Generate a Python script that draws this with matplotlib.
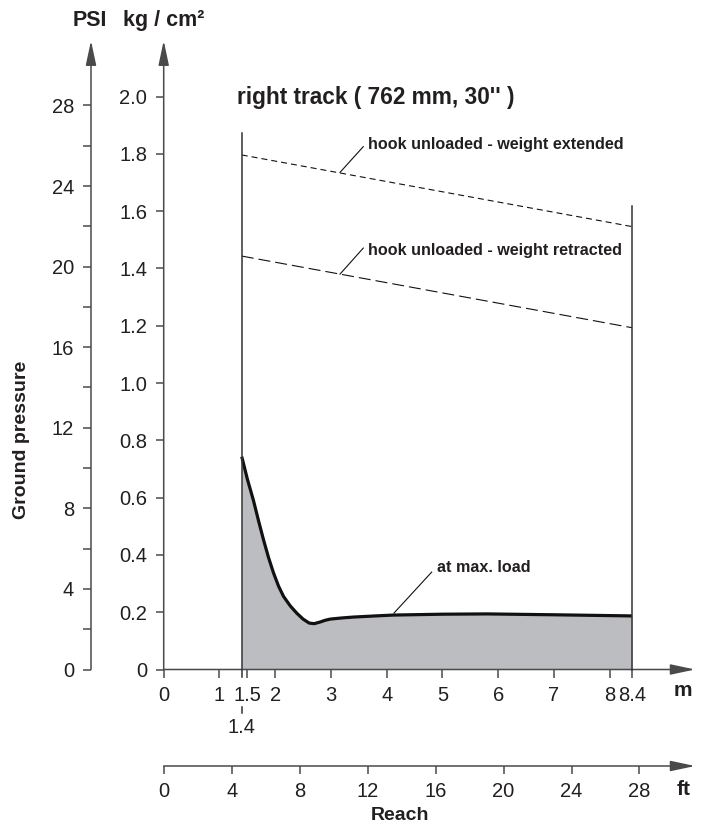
import matplotlib
matplotlib.use("Agg")
import matplotlib.pyplot as plt
from matplotlib.ticker import FixedLocator

plt.rcParams['font.family'] = ['Liberation Sans', 'DejaVu Sans']

# ---------------- data ----------------
kg_ticks = [0, 0.2, 0.4, 0.6, 0.8, 1.0, 1.2, 1.4, 1.6, 1.8, 2.0]
kg_labels = ["0", "0.2", "0.4", "0.6", "0.8", "1.0", "1.2", "1.4", "1.6", "1.8", "2.0"]
psi_major = [0, 4, 8, 12, 16, 20, 24, 28]
psi_minor = [2, 6, 10, 14, 18, 22, 26]
m_ticks = [0, 1, 1.5, 2, 3, 4, 5, 6, 7, 8, 8.4]
m_labels = ["0", "1", "1.5", "2", "3", "4", "5", "6", "7", "8", "8.4"]
ft_ticks = [0, 4, 8, 12, 16, 20, 24, 28]

reach_min, reach_max = 1.4, 8.4          # m
extended_x = [1.4, 8.4]
extended_y = [1.796, 1.546]              # kg/cm2, hook unloaded - weight extended
retracted_x = [1.4, 8.4]
retracted_y = [1.443, 1.193]             # kg/cm2, hook unloaded - weight retracted

load_x = [1.40, 1.50, 1.61, 1.70, 1.79, 1.88, 1.97, 2.06, 2.15, 2.27, 2.39,
          2.50, 2.61, 2.70, 2.81, 2.90, 2.99, 3.20, 3.40, 3.80, 4.12, 5.00,
          5.80, 7.00, 8.40]
load_y = [0.743, 0.665, 0.590, 0.520, 0.453, 0.391, 0.337, 0.291, 0.255, 0.222, 0.196,
          0.176, 0.162, 0.160, 0.166, 0.172, 0.176, 0.180, 0.183, 0.187, 0.190, 0.193,
          0.194, 0.191, 0.187]

KG_TO_PSI = 14.223
M_TO_FT = 1 / 0.3048

# ---------------- layout ----------------
W, H = 707, 830
X0, Y0 = 163.7, 669.5      # pixel of origin
PX_PER_M, PX_PER_KG = 55.75, 286.5
X_TIP, Y_TIP = 695.0, 40.7
axis_col = "#4a4a4a"
txt_col = "#231f20"
fill_col = "#bcbdc1"
TICK_FS = 14.5

fig = plt.figure(figsize=(W / 100, H / 100), dpi=100)
ax = fig.add_axes([X0 / W, 1 - Y0 / H, (X_TIP - X0) / W, (Y0 - Y_TIP) / H])
ax.set_xlim(0, (X_TIP - X0) / PX_PER_M)
ax.set_ylim(0, (Y0 - Y_TIP) / PX_PER_KG)
for s in ax.spines.values():
    s.set_visible(False)
ax.patch.set_alpha(0)

arrow_v = dict(arrowstyle='-|>,head_length=1.5,head_width=0.32', mutation_scale=10,
               lw=1.1, color=axis_col, shrinkA=0, shrinkB=0)
ax.annotate('', xy=(0, 1), xytext=(0, 0), xycoords='axes fraction', arrowprops=arrow_v)
ax.annotate('', xy=(1, 0), xytext=(0, 0), xycoords='axes fraction', arrowprops=arrow_v)

ax.set_yticks(kg_ticks)
ax.set_yticklabels(kg_labels)
ax.set_xticks(m_ticks)
ax.set_xticklabels(m_labels)
ax.tick_params(axis='both', direction='out', length=5.8, width=1.1, color=axis_col,
               labelsize=TICK_FS, labelcolor=txt_col, pad=6)

# data
ax.fill_between(load_x, load_y, 0, color=fill_col, lw=0, zorder=1)
ax.plot(load_x, load_y, color="#111111", lw=2.3, solid_joinstyle='round',
        solid_capstyle='butt', zorder=3)
ax.plot(extended_x, extended_y, color="#111111", lw=0.8, ls=(0, (5.4, 3.6)))
ax.plot(retracted_x, retracted_y, color="#111111", lw=0.8, ls=(0, (10.8, 4.5)))

# reach limit lines
ax.plot([reach_min, reach_min], [-0.025, 1.873], color="#333333", lw=1.1, clip_on=False, zorder=4)
ax.plot([reach_max, reach_max], [0, 1.618], color="#333333", lw=1.1, clip_on=False, zorder=4)
ax.plot([reach_min, reach_min], [-0.131, -0.153], color="#333333", lw=1.1, clip_on=False)
ax.text(reach_min, -0.2007, "1.4", ha='center', va='center', fontsize=TICK_FS, color=txt_col)

# annotations
bold = dict(fontweight='bold', color=txt_col)
ax.plot([3.162, 3.580], [1.735, 1.825], color="#111111", lw=0.8)
ax.text(3.665, 1.831, "hook unloaded - weight extended", fontsize=11.6, va='center', **bold)
ax.plot([3.162, 3.580], [1.380, 1.471], color="#111111", lw=0.8)
ax.text(3.665, 1.464, "hook unloaded - weight retracted", fontsize=11.6, va='center', **bold)
ax.plot([4.131, 4.807], [0.197, 0.340], color="#111111", lw=0.8)
ax.text(4.897, 0.355, "at max. load", fontsize=11.6, va='center', **bold)

ax.text((237 - X0) / PX_PER_M, (Y0 - 104) / PX_PER_KG, "right track ( 762 mm, 30'' )",
        fontsize=16.3, va='baseline', **bold)
ax.text((683 - X0) / PX_PER_M, (Y0 - 690) / PX_PER_KG, "m", fontsize=15,
        ha='center', va='center', clip_on=False, **bold)

# PSI axis
PSI_X = 91.0
axp = fig.add_axes([PSI_X / W, 1 - Y0 / H, 0.001, (Y0 - Y_TIP) / H])
axp.set_ylim(0, (Y0 - Y_TIP) / PX_PER_KG * KG_TO_PSI)
for s in axp.spines.values():
    s.set_visible(False)
axp.patch.set_alpha(0)
axp.set_xticks([])
axp.annotate('', xy=(0, 1), xytext=(0, 0), xycoords='axes fraction', arrowprops=arrow_v)
axp.yaxis.set_major_locator(FixedLocator(psi_major))
axp.yaxis.set_minor_locator(FixedLocator(psi_minor))
axp.set_yticklabels([str(v) for v in psi_major])
axp.tick_params(axis='y', which='both', direction='out', length=5.8, width=1.1,
                color=axis_col, labelsize=TICK_FS, labelcolor=txt_col, pad=6.5)

# ft axis
FT_Y = 766.0
axf = fig.add_axes([X0 / W, 1 - FT_Y / H, (X_TIP - X0) / W, 0.001])
axf.set_xlim(0, (X_TIP - X0) / PX_PER_M * M_TO_FT)
for s in axf.spines.values():
    s.set_visible(False)
axf.patch.set_alpha(0)
axf.set_yticks([])
axf.annotate('', xy=(1, 0), xytext=(0, 0), xycoords='axes fraction', arrowprops=arrow_v)
axf.set_xticks(ft_ticks)
axf.set_xticklabels([str(v) for v in ft_ticks])
axf.tick_params(axis='x', direction='out', length=5.8, width=1.1, color=axis_col,
                labelsize=TICK_FS, labelcolor=txt_col, pad=6)

# figure texts
fig.text(684 / W, 1 - 789 / H, "ft", fontsize=15, ha='center', va='center', **bold)
fig.text(400 / W, 1 - 815 / H, "Reach", fontsize=14, ha='center', va='center', **bold)
fig.text(22 / W, 1 - 440 / H, "Ground pressure", fontsize=14, rotation=90,
         ha='center', va='center', **bold)
fig.text(90 / W, 1 - 26 / H, "PSI", fontsize=15.5, ha='center', va='baseline', **bold)
fig.text(164 / W, 1 - 26 / H, "kg / cm²", fontsize=15.5, ha='center', va='baseline', **bold)

fig.savefig("out.png", dpi=100)
